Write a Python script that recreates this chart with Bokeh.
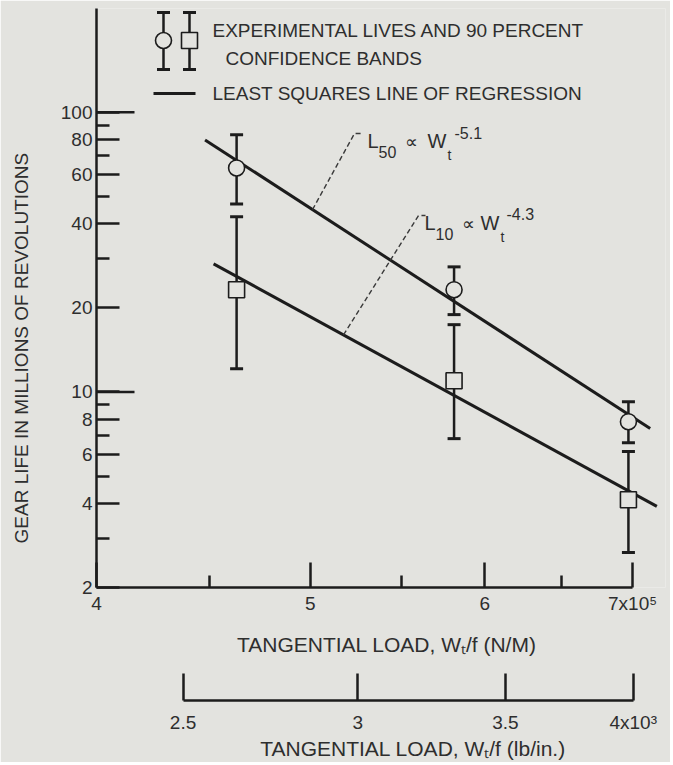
import math
from bokeh.plotting import figure
from bokeh.models import (Range1d, LogAxis, LogScale, FixedTicker, Whisker, TeeHead,
                          ColumnDataSource, Label)
from bokeh.embed import file_html
from bokeh.resources import INLINE

# ---------------- data ----------------
load_nm = [4.63e5, 5.81e5, 6.97e5]          # tangential load, N/m
l50_life = [63.2, 23.2, 7.83]               # experimental L50 lives (millions of revs)
l50_upper = [83.0, 28.0, 9.23]
l50_lower = [47.0, 18.9, 6.59]
l10_life = [23.2, 10.97, 4.12]              # experimental L10 lives
l10_upper = [42.3, 17.4, 6.12]
l10_lower = [12.1, 6.81, 2.67]
l50_fit_load = [4.48e5, 7.13e5]             # least squares line, L50
l50_fit_life = [79.6, 7.40]
l10_fit_load = [4.52e5, 7.18e5]             # least squares line, L10
l10_fit_life = [28.7, 3.90]

y_ticks = [2, 4, 6, 8, 10, 20, 40, 60, 80, 100]
y_tick_labels = ["2", "4", "6", "8", "10", "20", "40", "60", "80", "100"]
y_minor = [3, 5, 7, 9, 30, 50, 70, 90]
y_long = [10, 100]
x_ticks = [400000, 500000, 600000, 700000]
x_tick_labels = ["4", "5", "6", "7x10\u2075"]
x_minor = [450000, 550000, 650000]
lb_ticks = [2500, 3000, 3500, 4000]
lb_tick_labels = ["2.5", "3", "3.5", "4x10\u00b3"]
NM_PER_LBIN = 175.127

y_title = "GEAR LIFE IN MILLIONS OF REVOLUTIONS"
x_title = "TANGENTIAL LOAD, W\u209c/f (N/M)"
lb_title = "TANGENTIAL LOAD, W\u209c/f (lb/in.)"
legend1a = "EXPERIMENTAL LIVES AND 90 PERCENT"
legend1b = "CONFIDENCE BANDS"
legend2 = "LEAST SQUARES LINE OF REGRESSION"

# ---------------- layout / style ----------------
FONT = "Liberation Sans"
INK = "#1c1c1c"
TXT = "#2e2e2e"
BG = "#e3e3df"
NBSP = "\u00a0"
FIG_W, FIG_H = 670, 762
FRAME_L, FRAME_T, FRAME_R, FRAME_B = 96, 8, 665, 587   # canvas pixels
X0, X1 = 4e5, 7.245e5
Y0, Y1 = 2.0, 234.8


def px2x(px):
    return X0 * (X1 / X0) ** ((px - FRAME_L) / (FRAME_R - FRAME_L))


def py2y(py):
    return Y0 * (Y1 / Y0) ** ((FRAME_B - py) / (FRAME_B - FRAME_T))


def on_line(xs, ys, x):
    t = math.log(x / xs[0]) / math.log(xs[1] / xs[0])
    return ys[0] * (ys[1] / ys[0]) ** t


p = figure(width=FIG_W, height=FIG_H, x_axis_type="log", y_axis_type="log",
           x_range=Range1d(X0, X1), y_range=Range1d(Y0, Y1),
           output_backend="svg", toolbar_location=None,
           min_border_left=FRAME_L, min_border_right=FIG_W - FRAME_R,
           min_border_top=FRAME_T, min_border_bottom=FIG_H - FRAME_B,
           background_fill_color=BG, border_fill_color=BG, outline_line_color=None)
p.grid.visible = False


def style_axis(ax, tick_in, minor_in, standoff):
    ax.major_tick_in, ax.major_tick_out = tick_in, 0
    ax.minor_tick_in, ax.minor_tick_out = minor_in, 0
    ax.axis_line_width = 2.5
    ax.axis_line_color = INK
    ax.major_tick_line_width = 2.5
    ax.minor_tick_line_width = 2.5
    ax.major_tick_line_color = INK
    ax.minor_tick_line_color = INK
    ax.major_label_standoff = standoff
    ax.major_label_text_font = FONT
    ax.major_label_text_font_size = "19px"
    ax.major_label_text_color = TXT
    ax.axis_label_text_font = FONT
    ax.axis_label_text_font_style = "normal"
    ax.axis_label_text_color = TXT


# left axis
ya = p.yaxis[0]
ya.ticker = FixedTicker(ticks=y_ticks, minor_ticks=y_minor)
ya.major_label_overrides = dict(zip(y_ticks, y_tick_labels))
style_axis(ya, 23, 13, 4)
ya.axis_label = y_title + NBSP * 19
ya.axis_label_text_font_size = "19px"
ya.axis_label_standoff = 26

# bottom axis (N/M)
xa = p.xaxis[0]
xa.ticker = FixedTicker(ticks=x_ticks, minor_ticks=x_minor)
xa.major_label_overrides = dict(zip(x_ticks, x_tick_labels))
xa.bounds = (x_ticks[0], x_ticks[-1])
style_axis(xa, 25, 12, 5)
xa.axis_label = NBSP * 2 + x_title
xa.axis_label_text_font_size = "21px"
xa.axis_label_standoff = 16

# spacer between the two load scales (invisible label gives it height)
spacer = LogAxis(ticker=FixedTicker(ticks=[]), major_tick_out=0, major_tick_in=0,
                 axis_line_color=None, major_tick_line_color=None, minor_tick_line_color=None,
                 major_label_standoff=0, axis_label=".", axis_label_text_alpha=0,
                 axis_label_text_font_size="20px", axis_label_standoff=25)
p.add_layout(spacer, "below")

# lb/in axis
p.extra_x_ranges = {"lb": Range1d(X0 / NM_PER_LBIN, X1 / NM_PER_LBIN)}
p.extra_x_scales = {"lb": LogScale()}
lba = LogAxis(x_range_name="lb", ticker=FixedTicker(ticks=lb_ticks, minor_ticks=[]),
              bounds=(lb_ticks[0], lb_ticks[-1]))
lba.major_label_overrides = dict(zip(lb_ticks, lb_tick_labels))
style_axis(lba, 27, 0, 11)
lba.axis_label = NBSP * 11 + lb_title
lba.axis_label_text_font_size = "21px"
lba.axis_label_standoff = 1
p.add_layout(lba, "below")

# long ticks at decades on the life axis
p.ray(x=[X0] * len(y_long), y=y_long, length=38, length_units="screen", angle=0,
      line_width=2.5, line_color=INK)

# regression lines
p.line(l50_fit_load, l50_fit_life, line_width=3, line_color=INK)
p.line(l10_fit_load, l10_fit_life, line_width=3, line_color=INK)


def whiskers(xs, lo, hi):
    src = ColumnDataSource(dict(x=xs, lo=lo, hi=hi))
    w = Whisker(base="x", lower="lo", upper="hi", source=src, dimension="height",
                line_width=2.5, line_color=INK, level="underlay",
                upper_head=TeeHead(size=13, line_width=3, line_color=INK),
                lower_head=TeeHead(size=13, line_width=3, line_color=INK))
    p.add_layout(w)


whiskers(load_nm, l50_lower, l50_upper)
whiskers(load_nm, l10_lower, l10_upper)
p.scatter(load_nm, l50_life, marker="circle", size=16, fill_color=BG,
          line_color=INK, line_width=1.6)
p.scatter(load_nm, l10_life, marker="square", size=16, fill_color=BG,
          line_color=INK, line_width=1.6)

# ---------------- legend ----------------
lg_x1, lg_x2 = px2x(163), px2x(189)
whiskers([lg_x1, lg_x2], [py2y(69)] * 2, [py2y(12)] * 2)
p.scatter([lg_x1], [py2y(40)], marker="circle", size=16, fill_color=BG,
          line_color=INK, line_width=1.6)
p.scatter([lg_x2], [py2y(40)], marker="square", size=16, fill_color=BG,
          line_color=INK, line_width=1.6)
p.line([px2x(153), px2x(195)], [py2y(93)] * 2, line_width=3, line_color=INK)


def lab(px, py, text, size, align="left", angle=0.0, color=TXT):
    p.add_layout(Label(x=px2x(px), y=py2y(py), text=text, text_font=FONT,
                       text_font_size=size, text_color=color, text_align=align,
                       text_baseline="middle", angle=angle))


lab(212, 30, legend1a, "19px")
lab(225, 58, legend1b, "19px")
lab(212, 93, legend2, "19px")

# ---------------- annotations ----------------
for fx, fy, px_start, corner, tail in [
        (l50_fit_load, l50_fit_life, 312, (354, 133), 362),
        (l10_fit_load, l10_fit_life, 343, (418, 215), 425)]:
    xs0 = px2x(px_start)
    p.line([xs0, px2x(corner[0]), px2x(tail)],
           [on_line(fx, fy, xs0), py2y(corner[1]), py2y(corner[1])],
           line_dash="5 3", line_width=1.4, line_color="#3a3a3a")

lab(367, 140, "L", "20px")
lab(378, 151, "50", "16px")
lab(404, 141, "\u221d", "18px")
lab(427, 140, "W", "20px")
lab(447, 154, "t", "14px")
lab(454, 132, "-5.1", "16px")

lab(424, 222, "L", "20px")
lab(435, 233, "10", "16px")
lab(461, 223, "\u221d", "18px")
lab(480, 222, "W", "20px")
lab(500, 236, "t", "14px")
lab(506, 213, "-4.3", "16px")

open("out.html", "w").write(file_html(p, INLINE))
